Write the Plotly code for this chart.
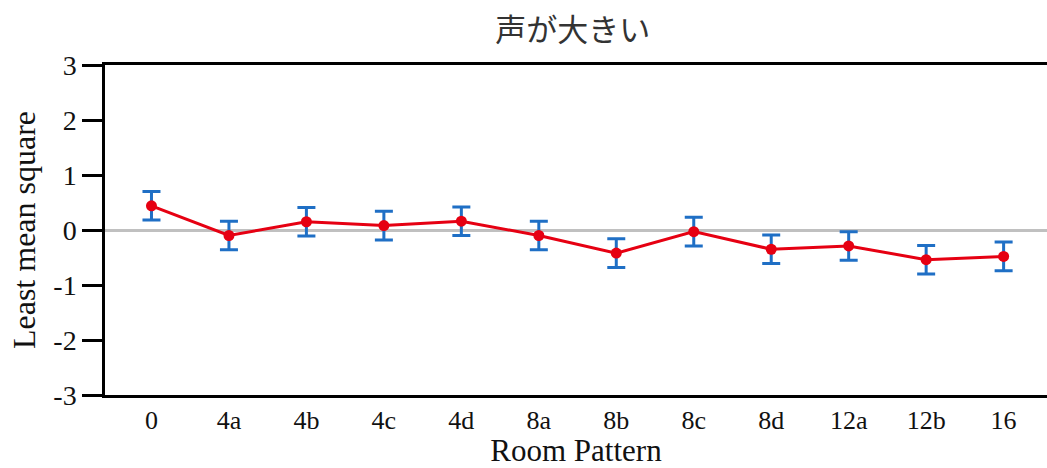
import plotly.graph_objects as go

# Room patterns and least-mean-square estimates with their error margins
patterns = ["0", "4a", "4b", "4c", "4d", "8a", "8b", "8c", "8d", "12a", "12b", "16"]
lms = [0.44, -0.10, 0.15, 0.08, 0.16, -0.10, -0.42, -0.03, -0.35, -0.29, -0.54, -0.48]
err = [0.26, 0.26, 0.26, 0.26, 0.26, 0.26, 0.26, 0.26, 0.26, 0.26, 0.26, 0.26]
y_ticks = [3, 2, 1, 0, -1, -2, -3]

serif = "Liberation Serif, Times New Roman, serif"

fig = go.Figure()
fig.add_trace(go.Scatter(
    x=list(range(len(patterns))),
    y=lms,
    mode="lines+markers",
    line=dict(color="#e60012", width=3),
    marker=dict(color="#e60012", size=11),
    error_y=dict(type="data", array=err, visible=True,
                 color="#1f6fc5", thickness=3, width=9),
    showlegend=False,
))

fig.update_layout(
    width=1047, height=468,
    margin=dict(l=105, r=0, t=65, b=73),
    paper_bgcolor="white", plot_bgcolor="white",
    title=dict(text="声が大きい", x=0.547, xanchor="center", y=0.935, yanchor="middle",
               font=dict(family="Noto Sans CJK JP", size=31, color="#333333")),
    font=dict(family=serif, color="#111111"),
)
fig.update_xaxes(
    range=[-0.6, 11.56],
    tickvals=list(range(len(patterns))), ticktext=patterns,
    showline=True, linecolor="black", linewidth=2.5, mirror=True,
    showgrid=False, zeroline=False, ticks="",
    tickfont=dict(family=serif, size=26),
    title=dict(text="Room Pattern", font=dict(family=serif, size=31), standoff=3),
)
fig.update_yaxes(
    range=[-3, 3],
    tickvals=y_ticks, ticktext=[str(v) for v in y_ticks],
    showline=True, linecolor="black", linewidth=2.5,
    ticks="outside", ticklen=20, tickwidth=2.5, tickcolor="black",
    showgrid=False, zeroline=True, zerolinecolor="#c0c0c0", zerolinewidth=2.5,
    tickfont=dict(family=serif, size=28),
    title=dict(text="Least mean square", font=dict(family=serif, size=32), standoff=9),
)

fig.write_html("out.html")
